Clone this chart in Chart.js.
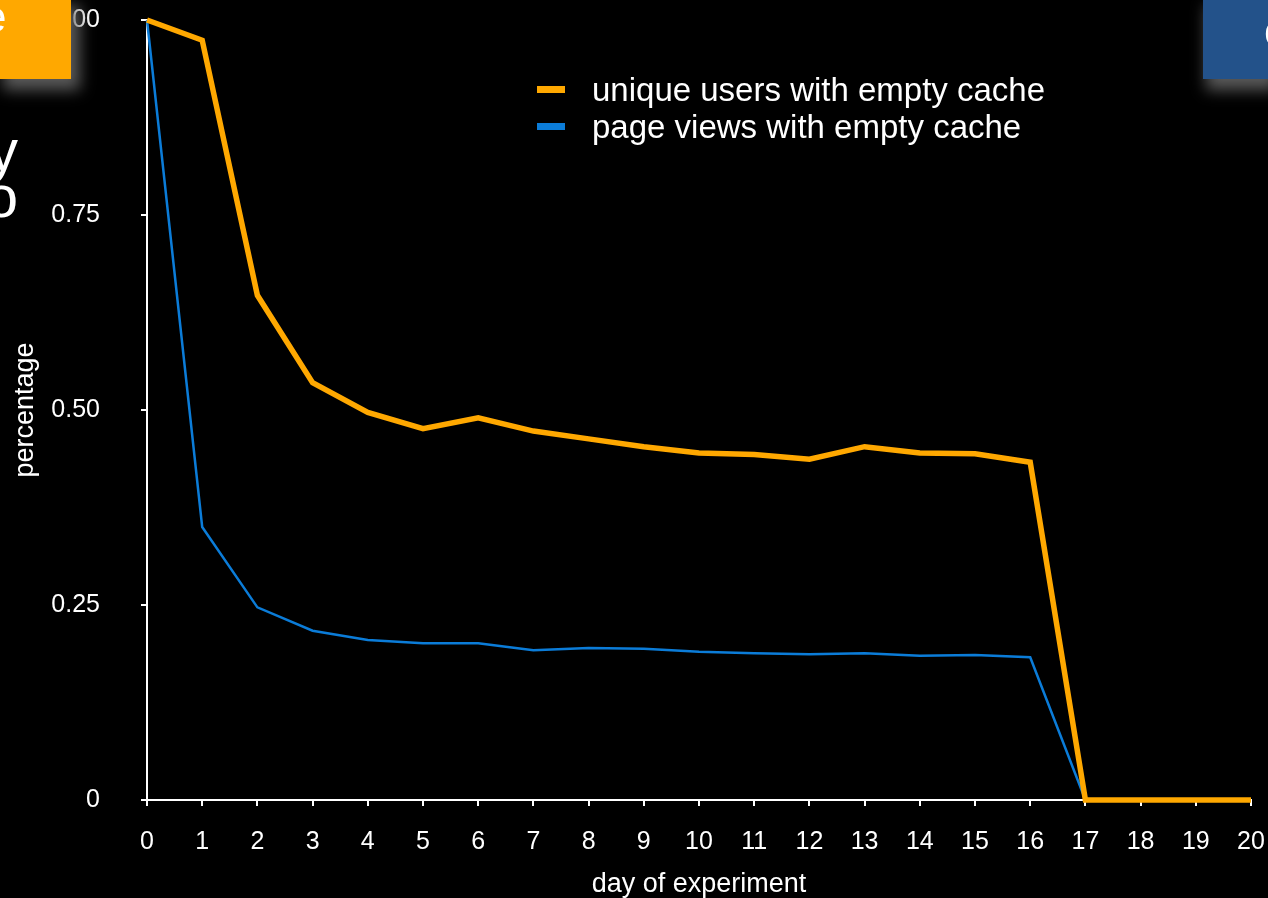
<!DOCTYPE html>
<html>
<head>
<meta charset="utf-8">
<script src="https://cdn.jsdelivr.net/npm/chart.js@4"></script>
<style>
  html, body { margin:0; padding:0; background:#000; width:1268px; height:898px; overflow:hidden; }
  #wrap { position:relative; width:1268px; height:898px; font-family:"Liberation Sans", Arial, sans-serif; }
  #c { position:absolute; left:0; top:0; }
  .deco { position:absolute; overflow:hidden; color:#fff; font-family:"Liberation Sans", Arial, sans-serif; }
  #orangeBox { left:0; top:0; width:71px; height:79px; background:#FFA800; box-shadow:6px 8px 14px 3px rgba(105,105,105,0.85); }
  #orangeBox span { position:absolute; left:-18px; top:-8px; font-size:44px; }
  #blueBox { left:1203px; top:0; width:65px; height:79px; background:#23528A; box-shadow:6px 8px 14px 3px rgba(105,105,105,0.85); }
  #blueBox span { position:absolute; left:61px; top:6px; font-size:44px; }
  #titleFrag { position:absolute; left:-30px; top:128px; width:48px; height:100px; overflow:hidden; color:#fff; font-size:60px; line-height:46px; text-align:right; }
  #legend { position:absolute; left:537px; top:71px; color:#fff; font-size:33px; }
  .li { display:flex; align-items:center; height:37px; }
  .sw { width:28px; height:7px; margin-right:27px; }
</style>
</head>
<body>
<div id="wrap">
  <canvas id="c" width="1268" height="898"></canvas>
  <div id="orangeBox" class="deco"><span>e</span></div>
  <div id="blueBox" class="deco"><span>c</span></div>
  <div id="titleFrag">y<br>o</div>
  <div id="legend"></div>
</div>
<script>
const days = ['0','1','2','3','4','5','6','7','8','9','10','11','12','13','14','15','16','17','18','19','20'];
const uniqueUsers = [1.00, 0.974, 0.647, 0.535, 0.497, 0.476, 0.490, 0.473, 0.463, 0.453, 0.445, 0.443, 0.437, 0.453, 0.445, 0.444, 0.433, 0, 0, 0, 0];
const pageViews   = [1.00, 0.350, 0.247, 0.217, 0.205, 0.201, 0.201, 0.192, 0.195, 0.194, 0.190, 0.188, 0.187, 0.188, 0.185, 0.186, 0.183, 0, 0, 0, 0];
const yTickValues = [0, 0.25, 0.50, 0.75, 1.00];
const yTickLabels = ['0', '0.25', '0.50', '0.75', '1.00'];
const seriesNames = ['unique users with empty cache', 'page views with empty cache'];
const seriesColors = ['#FFA800', '#0B7CD8'];

const FONT = '"Liberation Sans", Arial, sans-serif';

const chart = new Chart(document.getElementById('c'), {
  type: 'line',
  data: {
    labels: days,
    datasets: [
      { label: seriesNames[0], data: uniqueUsers, borderColor: seriesColors[0], borderWidth: 5.5, pointRadius: 0, tension: 0, fill: false, clip: false },
      { label: seriesNames[1], data: pageViews, borderColor: seriesColors[1], borderWidth: 2.5, pointRadius: 0, tension: 0, fill: false, clip: false }
    ]
  },
  options: {
    responsive: false,
    devicePixelRatio: 1,
    animation: false,
    layout: { padding: { left: 0, right: 17, top: 20, bottom: 0 } },
    plugins: { legend: { display: false }, tooltip: { enabled: false } },
    scales: {
      x: {
        type: 'category',
        offset: false,
        grid: { display: true, drawOnChartArea: false, drawTicks: true, tickLength: 6, color: '#fff', lineWidth: 2 },
        border: { display: true, color: '#fff', width: 2 },
        ticks: { color: '#fff', font: { family: FONT, size: 25 }, padding: 21, maxRotation: 0, autoSkip: false },
        title: { display: true, text: 'day of experiment', color: '#fff', font: { family: FONT, size: 27, lineHeight: 1.0 }, padding: { top: 0, bottom: 0 } },
        afterFit: s => { s.height = 98; s.paddingLeft = 0; s.paddingRight = 0; s.paddingTop = 0; s.paddingBottom = 0; }
      },
      y: {
        type: 'linear',
        min: 0, max: 1,
        afterBuildTicks: s => { s.ticks = yTickValues.map(v => ({ value: v })); },
        grid: { display: true, drawOnChartArea: false, drawTicks: true, tickLength: 6, color: '#fff', lineWidth: 2 },
        border: { display: true, color: '#fff', width: 2 },
        ticks: {
          color: '#fff', font: { family: FONT, size: 25 }, padding: 41,
          callback: (v) => { const i = yTickValues.indexOf(v); return i >= 0 ? yTickLabels[i] : ''; }
        },
        title: { display: true, text: 'percentage', color: '#fff', font: { family: FONT, size: 27 }, padding: { top: 9, bottom: 0 } },
        afterFit: s => { s.width = 147; s.paddingTop = 0; s.paddingBottom = 0; s.paddingLeft = 0; s.paddingRight = 0; }
      }
    }
  }
});

// legend built from the series
const lg = document.getElementById('legend');
seriesNames.forEach((n, i) => {
  const row = document.createElement('div'); row.className = 'li';
  const sw = document.createElement('div'); sw.className = 'sw'; sw.style.background = seriesColors[i];
  const tx = document.createElement('span'); tx.textContent = n;
  row.appendChild(sw); row.appendChild(tx); lg.appendChild(row);
});
</script>
</body>
</html>
